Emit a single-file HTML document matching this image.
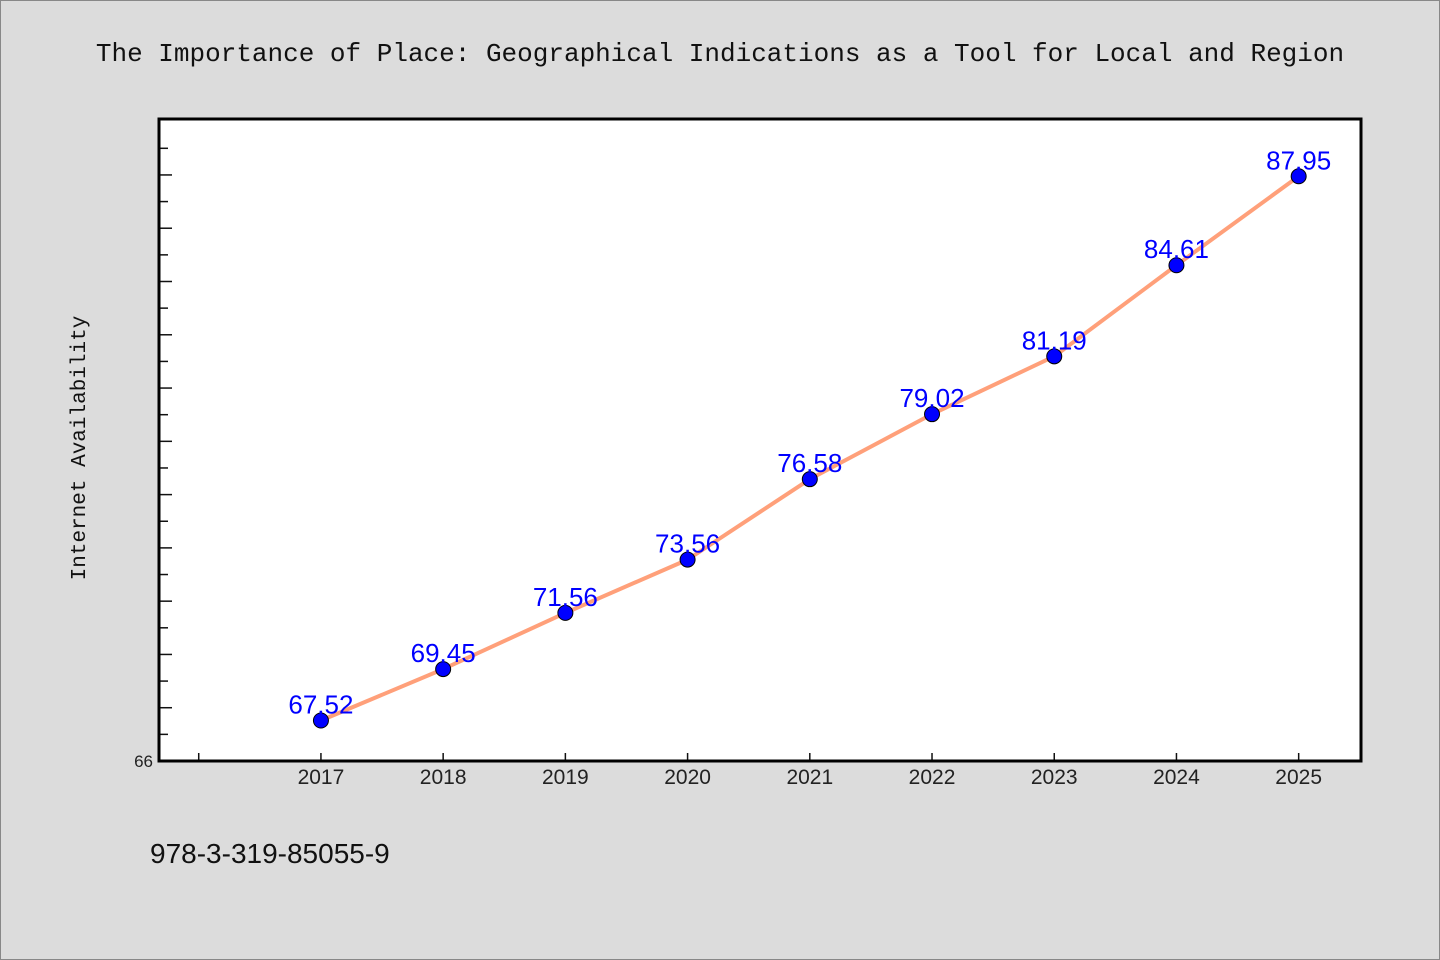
<!DOCTYPE html>
<html><head><meta charset="utf-8"><style>
body{margin:0;background:#dcdcdc;}
svg{display:block;font-family:"Liberation Sans","DejaVu Sans",sans-serif;}
</style></head><body>
<svg id="chart" width="1440" height="960">
<rect x="0.5" y="0.5" width="1439" height="959" fill="#dcdcdc" stroke="#888"/>
<text x="720" y="61" text-anchor="middle" font-family="'Liberation Mono',monospace" font-size="26" fill="#111">The Importance of Place: Geographical Indications as a Tool for Local and Region</text>
<rect x="159" y="119" width="1202" height="642" fill="#fff"/>
<g id="ticks"></g>
<g id="series"></g>
<rect x="159" y="119" width="1202" height="642" fill="none" stroke="#000" stroke-width="3"/>
<text transform="translate(85,448) rotate(-90)" text-anchor="middle" font-family="'Liberation Mono',monospace" font-size="21" fill="#111">Internet Availability</text>
<text x="150" y="863" font-size="28" fill="#111">978-3-319-85055-9</text>
</svg>
<script>
const years=[2017,2018,2019,2020,2021,2022,2023,2024,2025];
const values=[67.52,69.45,71.56,73.56,76.58,79.02,81.19,84.61,87.95];
const labels=["67.52","69.45","71.56","73.56","76.58","79.02","81.19","84.61","87.95"];
const yMin=66,yMax=90.1,xMin=2015.675,xMax=2025.51;
const L=159,R=1361,T=119,B=761;
const ns="http://www.w3.org/2000/svg";
function X(v){return L+(v-xMin)/(xMax-xMin)*(R-L);}
function Y(v){return B-(v-yMin)/(yMax-yMin)*(B-T);}
function mk(tag,attrs,parent){const e=document.createElementNS(ns,tag);for(const k in attrs)e.setAttribute(k,attrs[k]);parent.appendChild(e);return e;}
const tg=document.getElementById('ticks'),sg=document.getElementById('series');
for(let v=67;v<=89;v++){
  const len=(v%2===0)?13:9;
  const t=mk('line',{x1:L,x2:L+len,y1:Y(v),y2:Y(v),stroke:'#111','stroke-width':1.5},tg);
  
  
}
const yl=mk('text',{x:L-6,y:B+6,'text-anchor':'end','font-size':17,fill:'#222'},tg);
yl.textContent='66';


for(let yr=2016;yr<=2025;yr++){
  const t=mk('line',{x1:X(yr),x2:X(yr),y1:B,y2:B-8,stroke:'#111','stroke-width':1.5},tg);
  
  
}
years.forEach(yr=>{
  const t=mk('text',{x:X(yr),y:B+23,'text-anchor':'middle','font-size':21,fill:'#222'},tg);
  t.textContent=yr;
  
  
});
const pts=years.map((yr,i)=>X(yr)+','+Y(values[i])).join(' ');
const line=mk('polyline',{points:pts,fill:'none',stroke:'#ffa07a','stroke-width':4,'stroke-linejoin':'round'},sg);


years.forEach((yr,i)=>{
  const c=mk('circle',{cx:X(yr),cy:Y(values[i]),r:7.5,fill:'#0000ff',stroke:'#000','stroke-width':1},sg);
  
  
  const t=mk('text',{x:X(yr),y:Y(values[i])-7,'text-anchor':'middle','font-size':26,fill:'#0000ff'},sg);
  t.textContent=labels[i];
  
  
});
</script>
</body></html>
